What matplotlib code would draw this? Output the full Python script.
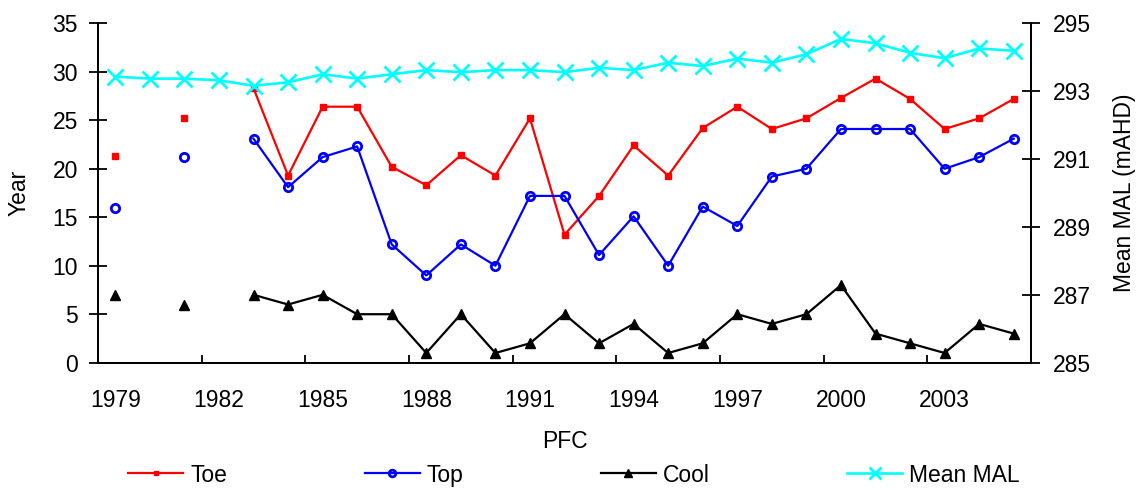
import matplotlib.pyplot as plt
import numpy as np

plt.rcParams['font.family'] = ['Liberation Sans', 'DejaVu Sans']

years = list(range(1979, 2006))
nan = np.nan

toe = [21.3, nan, 25.2, nan, 28.3, 19.3, 26.4, 26.4, 20.2, 18.3, 21.4, 19.3, 25.2, 13.2,
       17.2, 22.4, 19.3, 24.2, 26.4, 24.1, 25.2, 27.3, 29.3, 27.2, 24.1, 25.2, 27.2]
top = [16, nan, 21.2, nan, 23.1, 18.1, 21.2, 22.3, 12.2, 9, 12.2, 10, 17.2, 17.2,
       11.1, 15.1, 10, 16.1, 14.1, 19.2, 20, 24.1, 24.1, 24.1, 20, 21.2, 23.1]
cool = [7, nan, 6, nan, 7, 6, 7, 5, 5, 1, 5, 1, 2, 5,
        2, 4, 1, 2, 5, 4, 5, 8, 3, 2, 1, 4, 3]
mean_mal = [293.43, 293.37, 293.37, 293.32, 293.16, 293.26, 293.50, 293.37, 293.50, 293.62,
            293.56, 293.62, 293.62, 293.56, 293.69, 293.62, 293.84, 293.74, 293.96, 293.84,
            294.09, 294.54, 294.41, 294.13, 293.97, 294.26, 294.19]

x = np.arange(len(years))

fig = plt.figure(figsize=(11.4, 4.9), dpi=100)
ax = fig.add_axes([98 / 1140, 1 - 362.7 / 490, (1031 - 98) / 1140, (362.7 - 23.3) / 490])
ax2 = ax.twinx()

fs = 16.5
lw = 1.6

l1, = ax.plot(x, toe, color='red', lw=lw, marker='s', ms=4, label='Toe')
l2, = ax.plot(x, top, color='blue', lw=lw, marker='o', ms=6, mfc='none', mew=2, label='Top')
l3, = ax.plot(x, cool, color='black', lw=lw, marker='^', ms=7, label='Cool')
l4, = ax2.plot(x, mean_mal, color='cyan', lw=lw + 0.3, marker='x', ms=11, mew=2, label='Mean MAL')

ax.set_xlim(-0.5, len(years) - 0.5)
ax.set_ylim(0, 35)
ax.set_yticks(np.arange(0, 36, 5))
ax2.set_ylim(285, 295)
ax2.set_yticks(np.arange(285, 296, 2))

# category labels every third year, tick marks between categories
ax.set_xticks(x[::3])
ax.set_xticklabels([str(y) for y in years[::3]], fontsize=fs)
ax.set_xticks(np.arange(2.5, len(years) - 1, 3), minor=True)
ax.tick_params(axis='x', which='major', length=0, pad=19)
ax.tick_params(axis='x', which='minor', direction='in', length=6, width=1.3, color='black')
ax.tick_params(axis='y', direction='inout', length=13, width=1.3, labelsize=fs, pad=8)
ax2.tick_params(axis='y', direction='inout', length=13, width=1.3, labelsize=fs, pad=9)

for a in (ax, ax2):
    a.spines['top'].set_visible(False)
    for s in ('left', 'right', 'bottom'):
        a.spines[s].set_linewidth(1.3)

ax.set_ylabel('Year', fontsize=fs, labelpad=15.5)
ax2.set_ylabel('Mean MAL (mAHD)', fontsize=fs, labelpad=16)
ax.set_xlabel('PFC', fontsize=fs, labelpad=13)

fig.legend(handles=[l1, l2, l3, l4], loc='center', ncol=4, frameon=False, fontsize=fs,
           bbox_to_anchor=(574 / 1140, 1 - 475 / 490), handlelength=2.4,
           handletextpad=0.3, columnspacing=6.0, markerscale=0.8)

fig.savefig('out.png', dpi=100)
